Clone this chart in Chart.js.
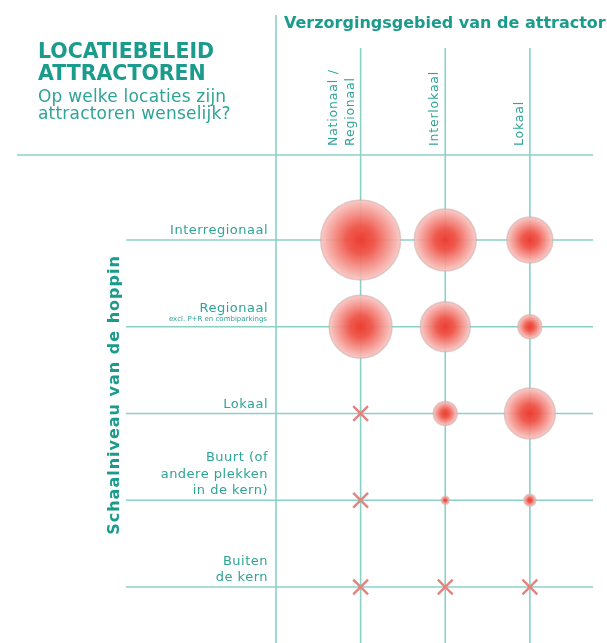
<!DOCTYPE html>
<html>
<head>
<meta charset="utf-8">
<script src="https://cdn.jsdelivr.net/npm/chart.js@4/dist/chart.umd.min.js"></script>
<style>
  html, body { margin: 0; padding: 0; background: #ffffff; }
  #wrap { position: relative; width: 607px; height: 643px; }
</style>
</head>
<body>
<div id="wrap"><canvas id="c" width="607" height="643"></canvas></div>
<script>
// ---- data ----
const titleLines = ['LOCATIEBELEID', 'ATTRACTOREN'];
const questionLines = ['Op welke locaties zijn', 'attractoren wenselijk?'];
const columnTitle = 'Verzorgingsgebied van de attractor';
const rowTitle = 'Schaalniveau van de hoppin';
const columnLabels = [['Nationaal /', 'Regionaal'], ['Interlokaal'], ['Lokaal']];
const rowLabels = [['Interregionaal'], ['Regionaal'], ['Lokaal'], ['Buurt (of', 'andere plekken', 'in de kern)'], ['Buiten', 'de kern']];
const rowNotes = ['', 'excl. P+R en combiparkings', '', '', ''];
// desirability (bubble size) per row (Interregionaal..Buiten) and column (Nationaal, Interlokaal, Lokaal); 0 = not desired (cross)
const interregionaal = [40, 31, 23];
const regionaal      = [31.5, 25, 12];
const lokaal         = [0, 12, 25.5];
const buurt          = [0, 4, 6];
const buiten         = [0, 0, 0];
const matrix = [interregionaal, regionaal, lokaal, buurt, buiten];

// ---- build datasets ----
const bubbles = [], crosses = [];
matrix.forEach((row, ri) => row.forEach((v, ci) => {
  if (v > 0) bubbles.push({x: ci, y: ri, r: v});
  else crosses.push({x: ci, y: ri});
}));

const TEAL = '#1a9b8c';
const TEAL_TXT = '#2ea496';
const LINE = '#8bd0c7';
const FONT = '"DejaVu Sans", Verdana, sans-serif';

function bubbleFill(ctx) {
  const chart = ctx.chart;
  if (ctx.type !== 'data' || !chart.chartArea || !ctx.raw) return 'rgba(240,110,100,0.8)';
  const px = chart.scales.x.getPixelForValue(ctx.raw.x);
  const py = chart.scales.y.getPixelForValue(ctx.raw.y);
  const r = Math.max(ctx.raw.r, 1);
  const g = chart.ctx.createRadialGradient(px, py, 0, px, py, r);
  g.addColorStop(0, 'rgba(236,62,50,1)');
  g.addColorStop(0.35, 'rgba(239,86,74,0.97)');
  g.addColorStop(0.72, 'rgba(244,148,140,0.92)');
  g.addColorStop(1, 'rgba(248,198,194,0.9)');
  return g;
}

const decor = {
  id: 'decor',
  beforeDatasetsDraw(chart) {
    const c = chart.ctx, xs = chart.scales.x, ys = chart.scales.y, a = chart.chartArea;
    c.save();
    c.strokeStyle = LINE;
    c.lineWidth = 1.6;
    // header separator
    c.beginPath(); c.moveTo(17, a.top); c.lineTo(a.right, a.top); c.stroke();
    // left border of the grid
    c.beginPath(); c.moveTo(a.left, 15); c.lineTo(a.left, a.bottom); c.stroke();
    // column lines
    columnLabels.forEach((_, i) => {
      const x = xs.getPixelForValue(i);
      c.beginPath(); c.moveTo(x, 48); c.lineTo(x, a.bottom); c.stroke();
    });
    // row lines
    rowLabels.forEach((_, i) => {
      const y = ys.getPixelForValue(i);
      c.beginPath(); c.moveTo(126, y); c.lineTo(a.right, y); c.stroke();
    });
    c.restore();
  },
  afterDraw(chart) {
    const c = chart.ctx, xs = chart.scales.x, ys = chart.scales.y, a = chart.chartArea;
    c.save();
    c.textBaseline = 'alphabetic';
    // main title
    c.fillStyle = TEAL;
    c.font = 'bold 20.5px ' + FONT;
    c.textAlign = 'left';
    titleLines.forEach((t, i) => c.fillText(t, 38, 58 + i * 22));
    c.fillStyle = TEAL_TXT;
    c.font = '17px ' + FONT;
    c.letterSpacing = '0.2px';
    questionLines.forEach((t, i) => c.fillText(t, 38, 102 + i * 17));
    c.letterSpacing = '0px';
    // column title
    c.fillStyle = TEAL;
    c.font = 'bold 16px ' + FONT;
    c.fillText(columnTitle, 284, 28);
    // column labels (rotated)
    c.fillStyle = TEAL_TXT;
    c.font = '12.5px ' + FONT;
    c.letterSpacing = '0.8px';
    columnLabels.forEach((lines, i) => {
      const x = xs.getPixelForValue(i);
      lines.forEach((t, li) => {
        const bx = x - 7 - (lines.length - 1 - li) * 16.5;
        c.save();
        c.translate(bx, a.top - 9);
        c.rotate(-Math.PI / 2);
        c.textAlign = 'left';
        c.fillText(t, 0, 0);
        c.restore();
      });
    });
    // row labels
    c.textAlign = 'right';
    rowLabels.forEach((lines, i) => {
      const y = ys.getPixelForValue(i);
      const note = rowNotes[i];
      const last = note ? y - 15 : y - 6;
      c.font = '13px ' + FONT;
      c.letterSpacing = '0.5px';
      lines.forEach((t, li) => {
        c.fillText(t, 268, last - (lines.length - 1 - li) * 16.5);
      });
      if (note) {
        c.font = '7px ' + FONT;
        c.letterSpacing = '0px';
        c.fillText(note, 267, y - 6);
      }
    });
    // row title (rotated)
    c.fillStyle = TEAL;
    c.font = 'bold 16px ' + FONT;
    c.letterSpacing = '1px';
    c.save();
    c.translate(119, 395);
    c.rotate(-Math.PI / 2);
    c.textAlign = 'center';
    c.fillText(rowTitle, 0, 0);
    c.restore();
    c.restore();
  }
};

new Chart(document.getElementById('c'), {
  type: 'bubble',
  data: {
    datasets: [
      {
        label: 'wenselijk',
        data: bubbles,
        backgroundColor: bubbleFill,
        borderColor: 'rgba(205,170,170,0.55)',
        borderWidth: 1.5
      },
      {
        type: 'scatter',
        label: 'niet wenselijk',
        data: crosses,
        pointStyle: 'crossRot',
        radius: 10.5,
        borderColor: '#e3837e',
        backgroundColor: '#e3837e',
        borderWidth: 2.4
      }
    ]
  },
  options: {
    responsive: false,
    animation: false,
    events: [],
    layout: { autoPadding: false, padding: { left: 276, right: 14, top: 155, bottom: 0 } },
    plugins: { legend: { display: false }, tooltip: { enabled: false } },
    scales: {
      x: { type: 'linear', display: false, min: -1, max: 2.746 },
      y: { type: 'linear', display: false, reverse: true, min: -0.98, max: 4.645 }
    }
  },
  plugins: [decor]
});
</script>
</body>
</html>
